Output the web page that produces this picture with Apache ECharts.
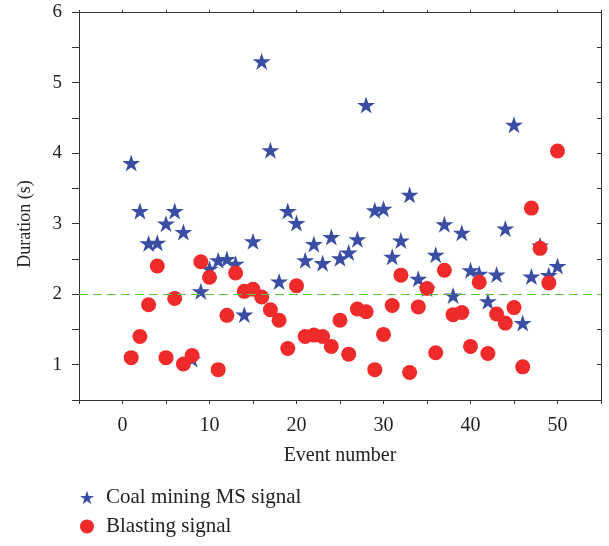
<!DOCTYPE html>
<html>
<head>
<meta charset="utf-8">
<script src="https://cdn.jsdelivr.net/npm/echarts@6/dist/echarts.min.js"></script>
<style>
  html, body { margin: 0; padding: 0; background: #fff; }
  #chart { width: 609px; height: 546px; }
</style>
</head>
<body>
<div id="chart"></div>
<script>
// event numbers on the x axis
const eventNo = [1, 2, 3, 4, 5, 6, 7, 8, 9, 10, 11, 12, 13, 14, 15, 16, 17, 18, 19, 20,
  21, 22, 23, 24, 25, 26, 27, 28, 29, 30, 31, 32, 33, 34, 35, 36, 37, 38, 39, 40,
  41, 42, 43, 44, 45, 46, 47, 48, 49, 50]
// duration (s)
const coalMs = [3.86, 3.18, 2.72, 2.73, 3.00, 3.18, 2.88, 1.08, 2.04, 2.36,
  2.48, 2.50, 2.43, 1.71, 2.75, 5.30, 4.04, 2.18, 3.18, 3.01,
  2.48, 2.71, 2.44, 2.81, 2.51, 2.59, 2.78, 4.68, 3.19, 3.21,
  2.53, 2.76, 3.41, 2.22, 2.08, 2.56, 2.99, 1.98, 2.87, 2.34,
  2.29, 1.90, 2.28, 2.93, 4.40, 1.59, 2.25, 2.69, 2.27, 2.40]
const blasting = [1.10, 1.40, 1.85, 2.40, 1.10, 1.94, 1.01, 1.13, 2.46, 2.24,
  0.93, 1.70, 2.30, 2.04, 2.07, 1.96, 1.78, 1.63, 1.23, 2.12,
  1.40, 1.42, 1.40, 1.26, 1.63, 1.15, 1.79, 1.75, 0.93, 1.43,
  1.84, 2.27, 0.89, 1.82, 2.08, 1.17, 2.34, 1.71, 1.74, 1.26,
  2.17, 1.16, 1.72, 1.59, 1.81, 0.97, 3.22, 2.65, 2.16, 4.03]
const threshold = 2

const starPath = 'path://M50,0 L61.2,34.5 L97.6,34.5 L68.2,55.9 L79.4,90.5 L50,69.1 L20.6,90.5 L31.8,55.9 L2.4,34.5 L38.8,34.5 Z'
const FONT = '"Liberation Serif", "DejaVu Serif", serif'
const axisColor = '#333'
const textColor = '#222'

const chart = echarts.init(document.getElementById('chart'))

const pairs = (ys) => eventNo.map((x, i) => [x, ys[i]])

chart.setOption({
  animation: false,
  backgroundColor: '#fff',
  grid: { left: 79, right: 8, top: 12, bottom: 146, containLabel: false },
  legend: {
    orient: 'vertical',
    left: 80,
    top: 487,
    padding: 0,
    itemWidth: 14,
    itemHeight: 14,
    itemGap: 8,
    textStyle: { fontFamily: FONT, fontSize: 21, color: textColor, padding: [0, 0, 0, 7] },
    data: [
      { name: 'Coal mining MS signal', icon: starPath },
      { name: 'Blasting signal', icon: 'circle' }
    ]
  },
  xAxis: [{
    type: 'value',
    min: -5,
    max: 55,
    interval: 5,
    name: 'Event number',
    nameLocation: 'middle',
    nameGap: 46,
    nameTextStyle: { fontFamily: FONT, fontSize: 20, color: textColor },
    axisLine: { onZero: false, lineStyle: { color: axisColor } },
    axisTick: { inside: false, length: 4, lineStyle: { color: axisColor } },
    axisLabel: {
      fontFamily: FONT, fontSize: 20, color: textColor, margin: 16,
      formatter: v => (v % 10 === 0 ? String(v) : '')
    },
    splitLine: { show: false }
  }, {
    type: 'value',
    position: 'top',
    min: -5,
    max: 55,
    interval: 5,
    axisLine: { onZero: false, lineStyle: { color: axisColor } },
    axisTick: { inside: false, length: 2, lineStyle: { color: axisColor } },
    axisLabel: { show: false },
    splitLine: { show: false }
  }],
  yAxis: [{
    type: 'value',
    min: 0.5,
    max: 6,
    interval: 0.5,
    name: 'Duration (s)',
    nameLocation: 'middle',
    nameGap: 45,
    // the title sits a bit below the middle of the axis in the original
    nameTextStyle: { fontFamily: FONT, fontSize: 18, color: textColor, padding: [0, 36, 0, 0] },
    axisLine: { show: true, onZero: false, lineStyle: { color: axisColor } },
    axisTick: { show: true, inside: false, length: 7, lineStyle: { color: axisColor } },
    axisLabel: {
      fontFamily: FONT, fontSize: 19, color: textColor, margin: 17,
      formatter: v => (Number.isInteger(v) ? String(v) : '')
    },
    splitLine: { show: false }
  }, {
    type: 'value',
    position: 'right',
    min: 0.5,
    max: 6,
    interval: 0.5,
    axisLine: { show: true, onZero: false, lineStyle: { color: axisColor } },
    axisTick: { show: true, inside: true, length: 4, lineStyle: { color: axisColor } },
    axisLabel: { show: false },
    splitLine: { show: false }
  }],
  series: [
    {
      name: 'limit',
      type: 'scatter',
      data: [],
      z: 1,
      markLine: {
        silent: true,
        symbol: 'none',
        label: { show: false },
        lineStyle: { color: '#5cc63a', type: [9, 5], width: 1.2 },
        data: [{ yAxis: threshold }]
      }
    },
    {
      name: 'Coal mining MS signal',
      type: 'scatter',
      z: 3,
      symbol: starPath,
      symbolSize: [18, 17],
      itemStyle: { color: '#3a4ea3', opacity: 1 },
      data: pairs(coalMs)
    },
    {
      name: 'Blasting signal',
      type: 'scatter',
      z: 4,
      symbol: 'circle',
      symbolSize: 15,
      itemStyle: { color: '#ee2a2a', opacity: 1 },
      data: pairs(blasting)
    }
  ]
})
</script>
</body>
</html>
